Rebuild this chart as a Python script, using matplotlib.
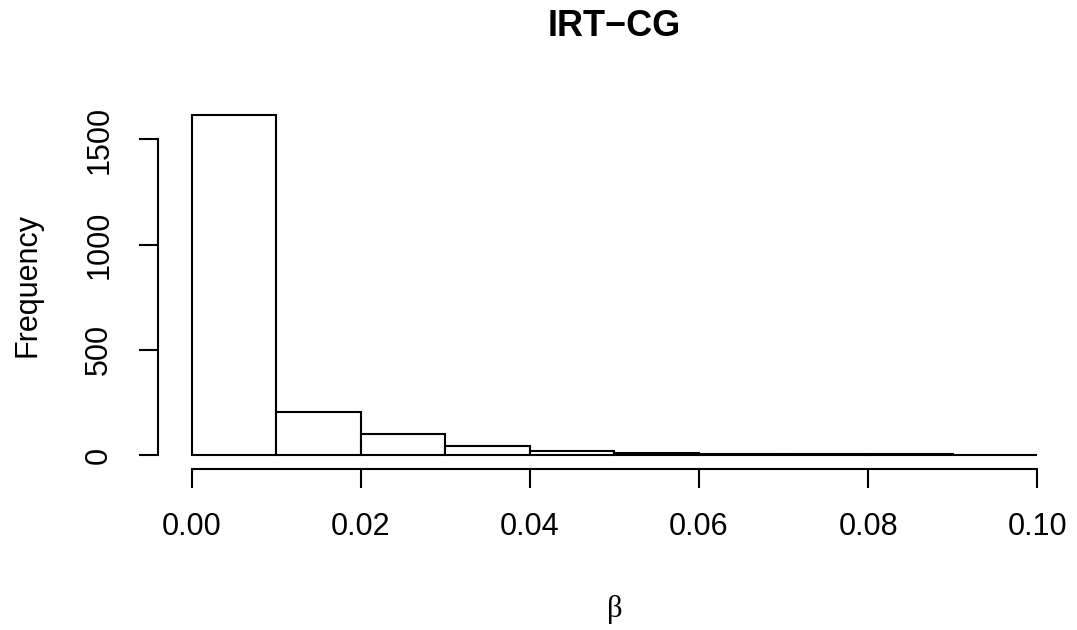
import matplotlib.pyplot as plt
import numpy as np

# histogram bins (beta) and counts
bin_edges = [0.00, 0.01, 0.02, 0.03, 0.04, 0.05, 0.06, 0.07, 0.08, 0.09, 0.10]
counts = [1615, 203, 102, 43, 17, 10, 5, 7, 5, 2]

x_ticks = [0.00, 0.02, 0.04, 0.06, 0.08, 0.10]
x_tick_labels = ["0.00", "0.02", "0.04", "0.06", "0.08", "0.10"]
y_ticks = [0, 500, 1000, 1500]

plt.rcParams["font.family"] = ["Liberation Sans", "DejaVu Sans"]

fig = plt.figure(figsize=(10.77, 6.3), dpi=100)
ax = fig.add_axes([0.1467, 0.2562, 0.9944 - 0.1467, 0.8386 - 0.2562])

edges = np.array(bin_edges)
ax.bar(edges[:-1], counts, width=np.diff(edges), align="edge",
       facecolor="white", edgecolor="black", linewidth=1.5)

xr = edges[-1] - edges[0]
ax.set_xlim(edges[0] - 0.04 * xr, edges[-1] + 0.04 * xr)
ymax = max(counts)
ax.set_ylim(-0.04 * ymax, ymax * 1.04)

for s in ["top", "right"]:
    ax.spines[s].set_visible(False)
ax.spines["left"].set_bounds(y_ticks[0], y_ticks[-1])
ax.spines["bottom"].set_bounds(x_ticks[0], x_ticks[-1])
for s in ["left", "bottom"]:
    ax.spines[s].set_linewidth(1.5)

ax.set_xticks(x_ticks)
ax.set_xticklabels(x_tick_labels)
ax.set_yticks(y_ticks)
ax.set_yticklabels([str(v) for v in y_ticks], rotation=90, va="center")
ax.tick_params(axis="both", direction="out", length=13.5, width=1.5,
               labelsize=22, pad=18)

ax.set_ylabel("Frequency", fontsize=22, labelpad=30)
ax.set_xlabel("β", fontsize=22, family=["Liberation Serif", "DejaVu Serif"],
              labelpad=38)
ax.set_title("IRT\u2212CG", fontsize=26, fontweight="bold", pad=47)

fig.savefig("out.png", dpi=100)
